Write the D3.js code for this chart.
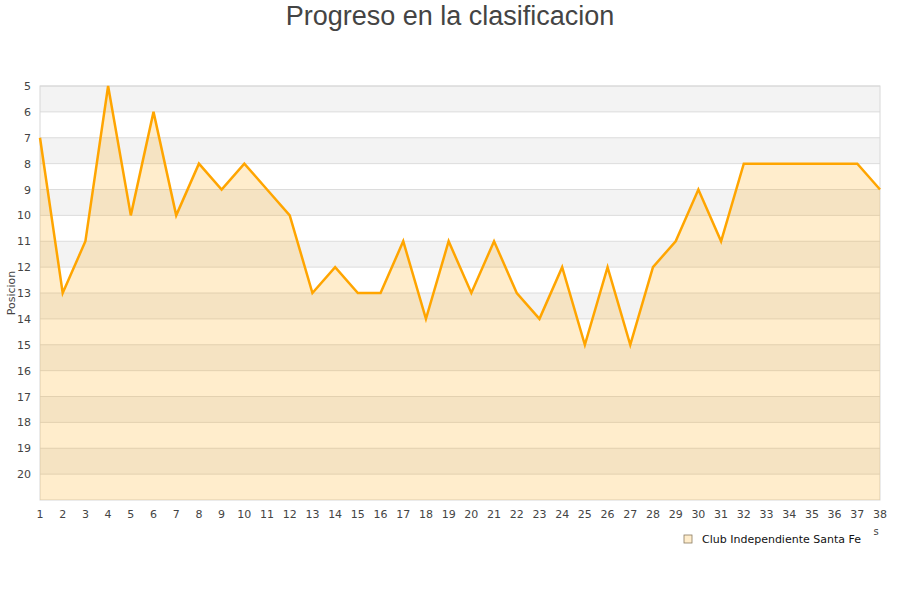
<!doctype html>
<html>
  <head>
    <meta charset="utf-8" />
    <title>Progreso en la clasificacion</title>
    <style>
      body { margin: 0; background: #fff; }
      svg text { font-family: "DejaVu Sans", sans-serif; }
      svg text.titulo { font-family: "Liberation Sans", Arial, sans-serif; }
    </style>
  </head>
  <body>
    <svg id="chart" width="900" height="600"></svg>
    <script src="https://d3js.org/d3.v7.min.js"></script>
    <script>
      // jornadas y posiciones
      const jornadas = d3.range(1, 39);
      const posiciones = [7, 13, 11, 5, 10, 6, 10, 8, 9, 8, 9, 10, 13, 12, 13, 13, 11, 14, 11, 13,
        11, 13, 14, 12, 15, 12, 15, 12, 11, 9, 11, 8, 8, 8, 8, 8, 8, 9];
      const yTicks = d3.range(5, 21);
      const equipo = 'Club Independiente Santa Fe';

      const svg = d3.select('#chart');
      const plotL = 40, plotR = 880, plotT = 86, plotB = 500;

      const x = d3.scaleLinear().domain([1, 38]).range([plotL, plotR]);
      const y = d3.scaleLinear().domain([5, 21]).range([plotT, plotB]);

      // bandas alternas
      svg.append('g')
        .selectAll('rect')
        .data(d3.range(5, 21))
        .join('rect')
        .attr('x', plotL)
        .attr('y', (d) => y(d))
        .attr('width', plotR - plotL)
        .attr('height', (d) => y(d + 1) - y(d))
        .attr('fill', (d) => (d % 2 === 1 ? '#f3f3f3' : '#ffffff'));

      // lineas de grilla
      svg.append('g')
        .selectAll('line')
        .data(yTicks)
        .join('line')
        .attr('x1', plotL)
        .attr('x2', plotR)
        .attr('y1', (d) => y(d))
        .attr('y2', (d) => y(d))
        .attr('stroke', '#dcdcdc')
        .attr('stroke-width', 1);

      svg.append('rect')
        .attr('x', plotL)
        .attr('y', plotT)
        .attr('width', plotR - plotL)
        .attr('height', plotB - plotT)
        .attr('fill', 'none')
        .attr('stroke', '#d8d8d8');

      const datos = jornadas.map((j, i) => ({ j, p: posiciones[i] }));

      const area = d3.area()
        .x((d) => x(d.j))
        .y0(y(21))
        .y1((d) => y(d.p));
      svg.append('path')
        .datum(datos)
        .attr('d', area)
        .attr('fill', 'rgba(255,165,0,0.2)');

      const line = d3.line()
        .x((d) => x(d.j))
        .y((d) => y(d.p));
      svg.append('path')
        .datum(datos)
        .attr('d', line)
        .attr('fill', 'none')
        .attr('stroke', '#ffa500')
        .attr('stroke-width', 2.5)
        .attr('stroke-linejoin', 'miter');

      // ejes
      svg.append('g')
        .selectAll('text')
        .data(yTicks)
        .join('text')
        .attr('x', 31)
        .attr('y', (d) => y(d) + 4)
        .attr('text-anchor', 'end')
        .attr('font-size', 11)
        .attr('fill', '#444')
        .text((d) => d);

      svg.append('g')
        .selectAll('text')
        .data(jornadas)
        .join('text')
        .attr('x', (d) => x(d))
        .attr('y', 518)
        .attr('text-anchor', 'middle')
        .attr('font-size', 11)
        .attr('fill', '#444')
        .text((d) => d);

      svg.append('text')
        .attr('transform', `translate(15,${(plotT + plotB) / 2}) rotate(-90)`)
        .attr('text-anchor', 'middle')
        .attr('font-size', 11)
        .attr('fill', '#444')
        .text('Posicion');

      // restos de la etiqueta recortada del eje x
      svg.append('text')
        .attr('x', 876)
        .attr('y', 535)
        .attr('text-anchor', 'middle')
        .attr('font-size', 10)
        .attr('fill', '#444')
        .text('s');

      svg.append('text')
        .attr('class', 'titulo')
        .attr('x', 450)
        .attr('y', 25)
        .attr('text-anchor', 'middle')
        .attr('font-size', 27)
        .attr('fill', '#444')
        .text('Progreso en la clasificacion');

      // leyenda
      const leg = svg.append('g').attr('transform', 'translate(684,535)');
      leg.append('rect')
        .attr('width', 8)
        .attr('height', 8)
        .attr('fill', '#ffedcc')
        .attr('stroke', '#8a7a60')
        .attr('stroke-width', 0.8);
      leg.append('text')
        .attr('x', 18)
        .attr('y', 8)
        .attr('font-size', 11)
        .attr('fill', '#111')
        .text(equipo);
    </script>
  </body>
</html>
